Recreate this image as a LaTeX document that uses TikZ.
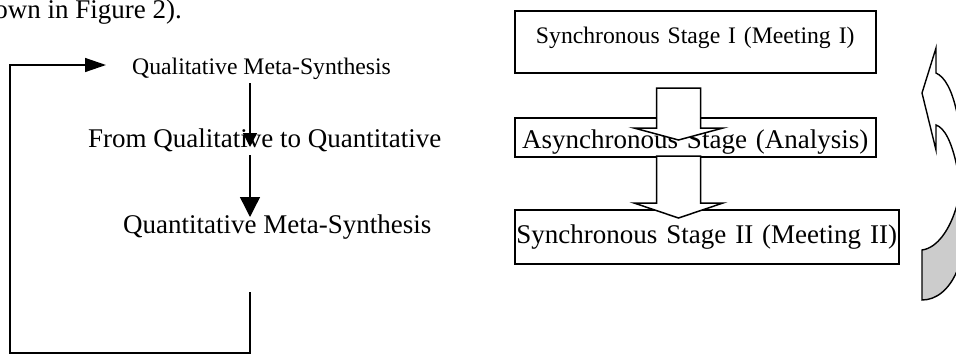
\documentclass[tikz,border=0pt]{standalone}
\usepackage{fontspec}
\setmainfont{Liberation Serif}
\usetikzlibrary{arrows.meta,calc}
\definecolor{backface}{gray}{0.8}
% hollow block arrow: #1 top of shaft, #2 tip, #3 head length
\newcommand\hollowarrow[3]{%
  \draw[blockarrow] ($(#1)+(-22,0)$) -- ($(#1)+(22,0)$) -- ($(#2)+(22,-#3)$)
    -- ($(#2)+(44.5,-#3)$) -- (#2) -- ($(#2)+(-44.5,-#3)$)
    -- ($(#2)+(-22,-#3)$) -- cycle;}
\begin{document}
\begin{tikzpicture}[x=1pt,y=-1pt,
  big/.style={font=\fontsize{27}{32}\selectfont, inner sep=0pt},
  small/.style={font=\fontsize{23.7}{28}\selectfont, inner sep=0pt},
  conn/.style={line width=1.4pt, line join=miter},
  stagebox/.style={draw, line width=1.5pt, inner sep=0pt, align=center, anchor=north west},
  blockarrow/.style={draw, fill=white, line width=1.5pt, line join=miter},
  curved/.style={draw, line width=1.4pt, line join=miter},
]
\useasboundingbox (0,0) rectangle (956,354);
\clip (0,0) rectangle (956,354);

% running text above the figure
\node[big, anchor=base east] (intro) at (182,18) {own in Figure 2).};

% left: qualitative / quantitative cycle
\node[small, anchor=base west] (qual) at (132,74) {Qualitative Meta-Synthesis};
\node[big, anchor=base west] (mid) at (88,147) {From Qualitative to Quantitative};
\node[big, anchor=base west] (quan) at (123,233) {Quantitative Meta-Synthesis};

\coordinate (d1s) at (250,83);
\coordinate (d1e) at (250,147);
\coordinate (d2s) at (250,155);
\coordinate (d2e) at (250,217);
\coordinate (fbs) at (250,292);
\coordinate (fbc) at (10,353);
\coordinate (fbe) at (106,65);

\draw[conn, -{Triangle[length=14pt,width=14pt]}] (d1s) -- (d1e);
\draw[conn, -{Triangle[length=20pt,width=20pt]}] (d2s) -- (d2e);
\draw[conn, -{Triangle[length=21pt,width=14pt]}] (fbs) |- (fbc) |- (fbe);

% right: meeting stages
\node[stagebox, small, text width=361pt, text height=33pt, text depth=29pt] (s1) at (514,10)
  {Synchronous Stage I (Meeting I)};
\node[stagebox, big, text width=361pt, text height=31pt, text depth=8pt] (s2) at (514,117)
  {Asynchronous Stage (Analysis)};
\node[stagebox, big, text width=384pt, text height=34pt, text depth=20pt] (s3) at (514,209)
  {Synchronous Stage II (Meeting II)};

\coordinate (a1s) at (678.5,88);
\coordinate (a1e) at (678.5,140);
\coordinate (a2s) at (678.5,156);
\coordinate (a2e) at (678.5,218);
\hollowarrow{a1s}{a1e}{12}
\hollowarrow{a2s}{a2e}{15}

% curved return arrow at the right margin
\path[curved, fill=backface]
  (922,250) -- (922,300) .. controls (936,300) and (949,290) .. (957,271)
  -- (990,271) -- (990,205) -- (957,205)
  .. controls (950,230) and (937,248) .. (922,250) -- cycle;
\path[curved, fill=white]
  (936,73) -- (936,48) -- (922,93) -- (936,150) -- (936,125)
  .. controls (945,128) and (952,143) .. (957,167)
  -- (990,167) -- (990,113) -- (957,113)
  .. controls (952,90) and (945,77) .. (936,73) -- cycle;
\end{tikzpicture}
\end{document}
